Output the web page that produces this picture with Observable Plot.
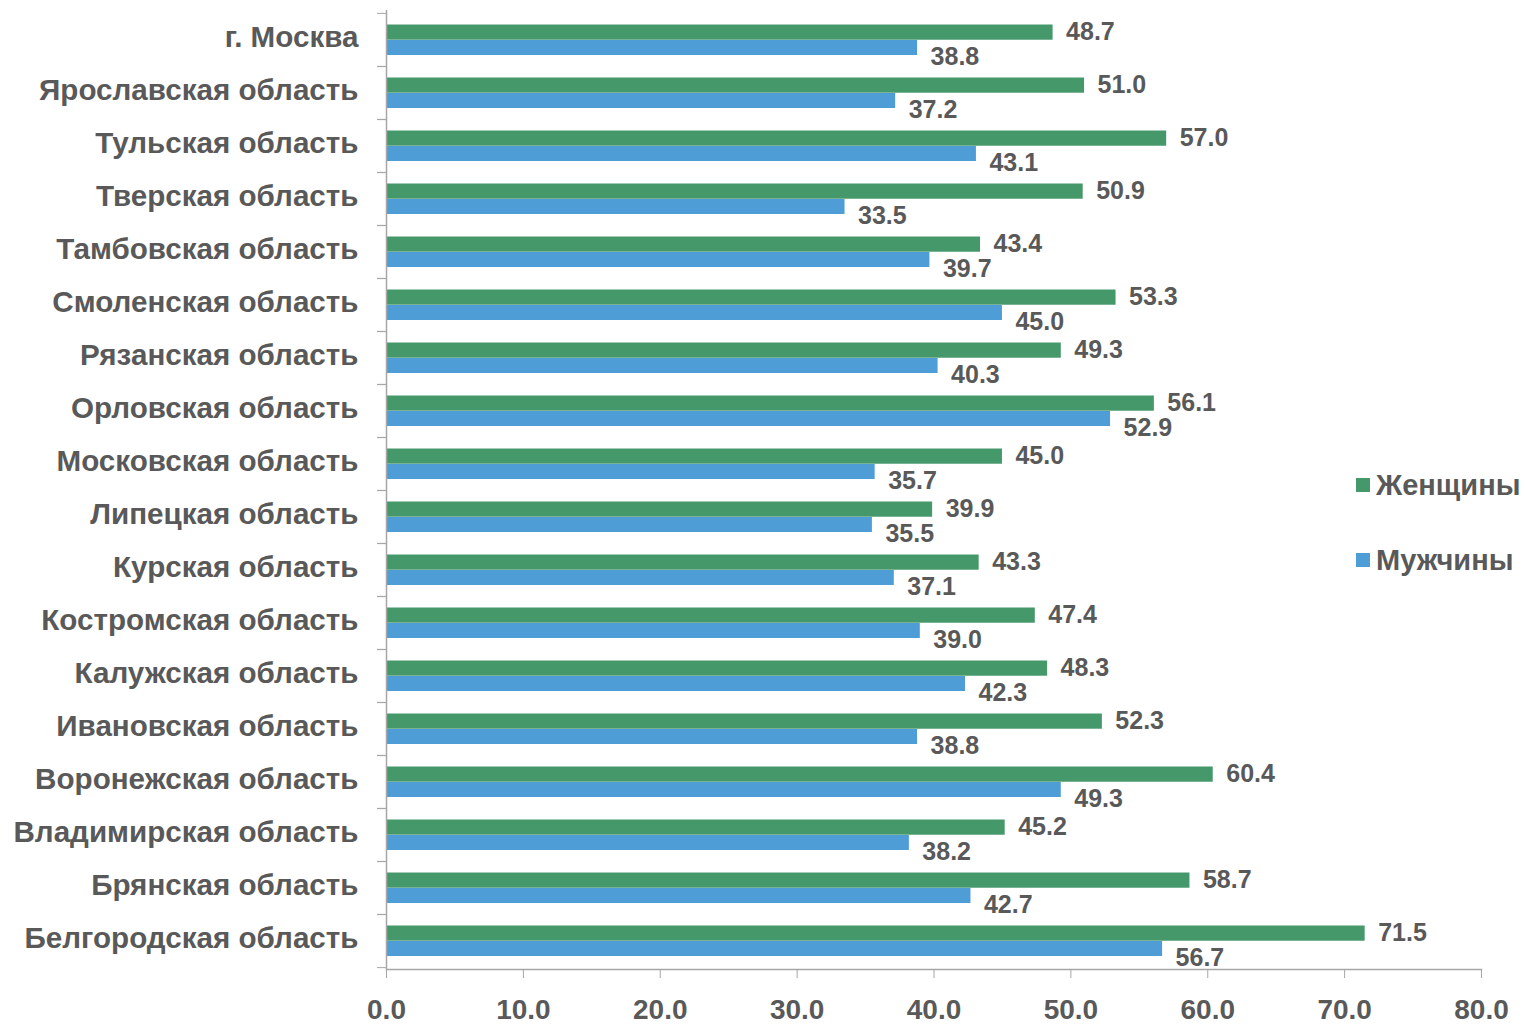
<!DOCTYPE html>
<html>
<head>
<meta charset="utf-8">
<script src="https://cdn.jsdelivr.net/npm/d3@7"></script>
<script src="https://cdn.jsdelivr.net/npm/@observablehq/plot@0.6"></script>
<style>
  body { margin: 0; background: #fff; }
  #wrap { position: relative; width: 1525px; height: 1024px; font-family: "Liberation Sans", Arial, sans-serif; }
  #legend { position: absolute; left: 1356px; top: 466px; font-weight: bold; font-size: 29px; color: #595959; }
  .item { display: flex; align-items: center; height: 38px; margin-bottom: 37px; }
  .sw { width: 14px; height: 14px; margin-right: 6px; }
</style>
</head>
<body>
<div id="wrap"></div>
<script>
const regions = ["г. Москва","Ярославская область","Тульская область","Тверская область","Тамбовская область","Смоленская область","Рязанская область","Орловская область","Московская область","Липецкая область","Курская область","Костромская область","Калужская область","Ивановская область","Воронежская область","Владимирская область","Брянская область","Белгородская область"];
const women = [48.7,51.0,57.0,50.9,43.4,53.3,49.3,56.1,45.0,39.9,43.3,47.4,48.3,52.3,60.4,45.2,58.7,71.5];
const men   = [38.8,37.2,43.1,33.5,39.7,45.0,40.3,52.9,35.7,35.5,37.1,39.0,42.3,38.8,49.3,38.2,42.7,56.7];
const series = ["Женщины","Мужчины"];
const colors = ["#45986a","#4f9dd6"];
const xTicks = [0,10,20,30,40,50,60,70,80];

const dataW = regions.map((r,i)=>({region:r, value:women[i], series:series[0]}));
const dataM = regions.map((r,i)=>({region:r, value:men[i], series:series[1]}));

const H = 1024, mT = 10, mB = 55;
const bw = (H - mT - mB) / regions.length;
const textColor = "#595959", axisColor = "#a6a6a6";

const chart = Plot.plot({
  width: 1525, height: H,
  marginLeft: 386, marginRight: 44, marginTop: mT, marginBottom: mB,
  style: {fontFamily: "'Liberation Sans', Arial, sans-serif", fontWeight: "bold", background: "#fff"},
  x: {domain: [0, 80], axis: null, label: null},
  y: {domain: regions, padding: 0, axis: null, label: null},
  marks: [
    Plot.barX(dataW, {x: "value", y: "region", fill: colors[0], insetTop: 11.5, insetBottom: bw - 27}),
    Plot.barX(dataM, {x: "value", y: "region", fill: colors[1], insetTop: 27, insetBottom: 11}),
    Plot.text(dataW, {x: "value", y: "region", text: d => d.value.toFixed(1), textAnchor: "start", dx: 13, dy: -8, fontSize: 25, fill: textColor}),
    Plot.text(dataM, {x: "value", y: "region", text: d => d.value.toFixed(1), textAnchor: "start", dx: 13, dy: 17, fontSize: 25, fill: textColor}),
    Plot.ruleX([0], {stroke: axisColor, strokeWidth: 1.5}),
    Plot.frame({anchor: "bottom", stroke: axisColor, strokeWidth: 1.5}),
    Plot.axisX({ticks: xTicks, tickSize: 9, tickPadding: 21, stroke: axisColor, fill: textColor, fontSize: 28, label: null, tickFormat: d => d.toFixed(1)}),
    Plot.axisY({tickSize: 9, dy: -bw/2, stroke: axisColor, label: null, tickFormat: () => ""}),
    Plot.axisY({tickSize: 9, dy: bw/2, stroke: axisColor, label: null, tickFormat: () => ""}),
    Plot.axisY({tickSize: 0, tickPadding: 28, dy: -2, fill: textColor, fontSize: 29.6, label: null})
  ]
});
const wrap = document.getElementById("wrap");
wrap.appendChild(chart);
const legend = document.createElement("div");
legend.id = "legend";
legend.innerHTML = series.map((s,i)=>`<div class="item"><div class="sw" style="background:${colors[i]}"></div>${s}</div>`).join("");
wrap.appendChild(legend);
</script>
</body>
</html>
